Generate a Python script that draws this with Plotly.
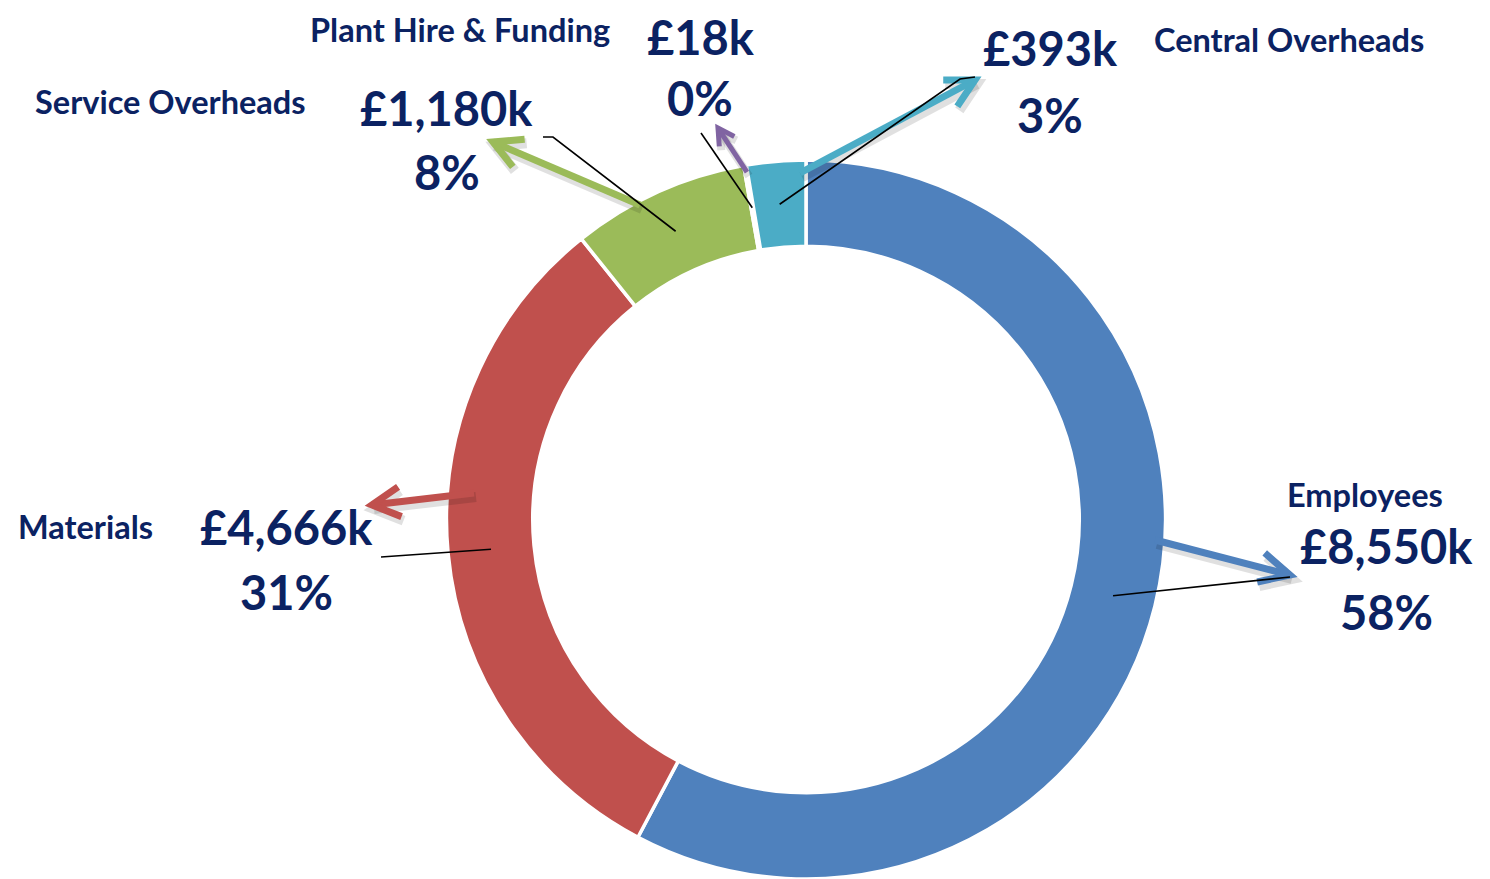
import numpy as np
import plotly.graph_objects as go

# ---------------- data ----------------
categories = ["Employees", "Materials", "Service Overheads", "Plant Hire & Funding", "Central Overheads"]
values_k = [8550, 4666, 1180, 18, 393]
pct_labels = ["58%", "31%", "8%", "0%", "3%"]
colors = ["#4F81BD", "#C0504D", "#9BBB59", "#8064A2", "#4BACC6"]

# ---------------- layout (page pixels) ----------------
W, H = 1490, 879
OX, OY = 8, 8          # page body margin of the html output
DOM_X = (446, 1166)
DOM_Y = (160, 879)
HOLE = 0.76
TEXT = "#0B2262"
FONT = "Lato"
NAME_SIZE, VALUE_SIZE = 32.5, 47

name_pos = [(1365, 494), (85, 526), (170, 101), (460, 29), (1289, 40)]
value_pos = [(1386, 546), (286, 527), (447, 108), (701, 37), (1050, 48)]
pct_pos = [(1386, 612), (286, 592), (447, 172), (700, 98), (1050, 115)]
leader_end = [[(1290, 577)], [(381, 557)], [(553, 137), (543, 137)], [(701, 133)], [(960, 79), (975, 77)]]
arrow_pts = [((1155, 540), (1290, 575)), ((474, 493), (372, 505)), ((640, 205), (493, 142)),
             ((747, 172), (718, 128)), ((800, 173), (975, 80))]
arrow_size = [(30, 15, 7), (28, 15, 7), (28, 15, 7), (16, 9, 5), (28, 15, 7)]


def P(x, y):
    return (x - OX) / W, 1 - (y - OY) / H


def path(pts):
    s = ""
    for i, (x, y) in enumerate(pts):
        px, py = P(x, y)
        s += ("M" if i == 0 else " L") + f" {px:.5f},{py:.5f}"
    return s


x0, y1 = P(DOM_X[0], DOM_Y[0])
x1, y0 = P(DOM_X[1], DOM_Y[1])
fig = go.Figure(go.Pie(
    labels=categories, values=values_k, hole=HOLE, sort=False, direction="clockwise", rotation=0,
    marker=dict(colors=colors, line=dict(color="white", width=3.5)),
    textinfo="none", hoverinfo="label+value+percent", showlegend=False,
    domain=dict(x=[x0, x1], y=[max(0, y0), min(1, y1)]),
))

# geometry of ring derived from domain
cx = (DOM_X[0] + DOM_X[1]) / 2
r_out = min(DOM_X[1] - DOM_X[0], DOM_Y[1] - DOM_Y[0]) / 2
cy = DOM_Y[1] - r_out
r_mid = r_out * (1 + HOLE) / 2

vals = np.array(values_k, dtype=float)
frac_mid = (np.cumsum(vals) - vals / 2) / vals.sum()

shapes = []
# colored arrows (with soft shadow)
for (t, h), (L, Wd, lw), col in zip(arrow_pts, arrow_size, colors):
    t = np.array(t, float); h = np.array(h, float)
    d = (h - t) / np.linalg.norm(h - t)
    n = np.array([-d[1], d[0]])
    a1 = h - L * d + Wd * n
    a2 = h - L * d - Wd * n
    for off, c, w in [((2, 4), "rgba(0,0,0,0.12)", lw + 3), ((0, 0), col, lw)]:
        o = np.array(off, float)
        shapes.append(dict(type="path", xref="paper", yref="paper",
                           path=path([t + o, h + o]), line=dict(color=c, width=w), layer="above"))
        shapes.append(dict(type="path", xref="paper", yref="paper",
                           path=path([a1 + o, h + o, a2 + o]), line=dict(color=c, width=w), layer="above"))

# black leader lines starting from each slice's mid angle
for f, ends in zip(frac_mid, leader_end):
    th = 2 * np.pi * f
    sx = cx + r_mid * np.sin(th)
    sy = cy - r_mid * np.cos(th)
    shapes.append(dict(type="path", xref="paper", yref="paper",
                       path=path([(sx, sy)] + ends), line=dict(color="black", width=1.6), layer="above"))

annotations = []
for i, cat in enumerate(categories):
    for pos, txt, size in [(name_pos[i], cat, NAME_SIZE), (value_pos[i], f"£{values_k[i]:,}k", VALUE_SIZE),
                           (pct_pos[i], pct_labels[i], VALUE_SIZE)]:
        x, y = P(*pos)
        annotations.append(dict(x=x, y=y, xref="paper", yref="paper", text=f"<b>{txt}</b>",
                                showarrow=False, xanchor="center", yanchor="middle", borderpad=0,
                                font=dict(family=FONT, size=size, color=TEXT)))

fig.update_layout(width=W, height=H, margin=dict(l=0, r=0, t=0, b=0),
                  paper_bgcolor="white", plot_bgcolor="white",
                  shapes=shapes, annotations=annotations)
fig.write_html("out.html")
